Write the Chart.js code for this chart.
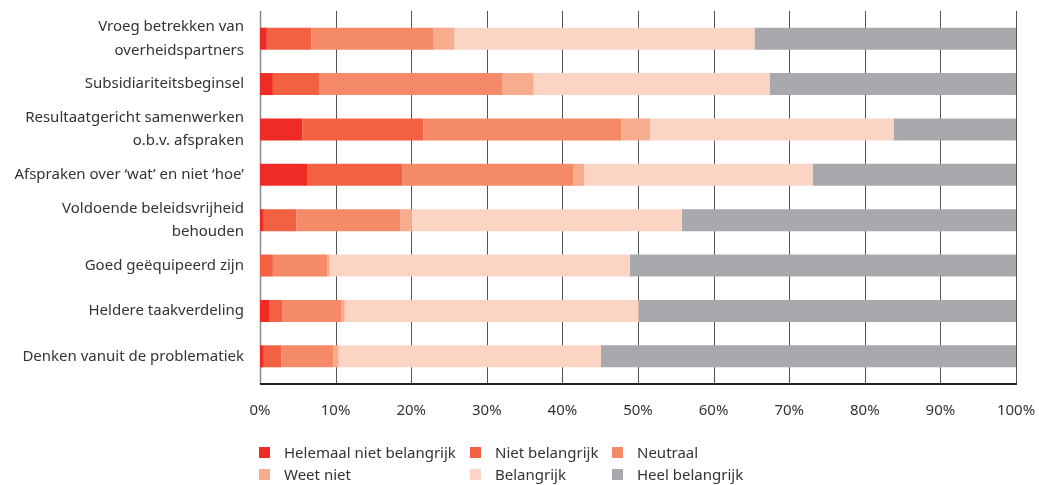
<!DOCTYPE html>
<html lang="nl">
<head>
    <meta charset="UTF-8">
    <title>Belang van samenwerkingsprincipes</title>
    <style>
        html, body {
            margin: 0;
            padding: 0;
            background: #fff;
        }

        #wrap {
            position: relative;
            width: 1039px;
            height: 485px;
        }

        #legend {
            position: absolute;
            left: 259px;
            top: 443px;
            display: grid;
            grid-template-columns: 211px 142px 200px;
            row-gap: 4px;
            font-family: "Noto Sans", sans-serif;
            font-size: 15px;
            color: #333;
        }

        .item {
            display: flex;
            align-items: center;
            height: 18px;
            white-space: nowrap;
        }

        .box {
            width: 11px;
            height: 11px;
            margin-right: 14px;
        }
    </style>
</head>
<body>

<div id="wrap">
    <canvas id="chart" width="1039" height="485"></canvas>
    <div id="legend"></div>
</div>

<script src="https://cdn.jsdelivr.net/npm/chart.js"></script>
<script>
    // categorieën (van boven naar beneden)
    const categories = [
        ['Vroeg betrekken van', 'overheidspartners'],
        'Subsidiariteitsbeginsel',
        ['Resultaatgericht samenwerken', 'o.b.v. afspraken'],
        'Afspraken over \u2018wat\u2019 en niet \u2018hoe\u2019',
        ['Voldoende beleidsvrijheid', 'behouden'],
        'Goed ge\u00EBquipeerd zijn',
        'Heldere taakverdeling',
        'Denken vanuit de problematiek'
    ];

    // waarden in %
    const helemaalNiet = [0.9, 1.7, 5.6, 6.3, 0.5, 0, 1.2, 0.5];
    const nietBelangrijk = [5.9, 6.1, 16.0, 12.5, 4.3, 1.7, 1.8, 2.3];
    const neutraal = [16.1, 24.3, 26.2, 22.6, 13.8, 7.2, 7.8, 6.9];
    const weetNiet = [2.8, 4.1, 3.8, 1.5, 1.5, 0.3, 0.4, 0.7];
    const belangrijk = [39.7, 31.2, 32.2, 30.2, 35.7, 39.7, 38.9, 34.7];
    const heelBelangrijk = [34.6, 32.6, 16.2, 26.9, 44.2, 51.1, 49.9, 54.9];

    const seriesNames = ['Helemaal niet belangrijk', 'Niet belangrijk', 'Neutraal', 'Weet niet', 'Belangrijk', 'Heel belangrijk'];
    const seriesColors = ['#ee2c25', '#f16142', '#f58a69', '#f8ac8e', '#fcd4c4', '#a8a9ad'];
    const seriesValues = [helemaalNiet, nietBelangrijk, neutraal, weetNiet, belangrijk, heelBelangrijk];

    const xTicks = [0, 10, 20, 30, 40, 50, 60, 70, 80, 90, 100];

    const fontFamily = '"Noto Sans", sans-serif';

    // verticale rasterlijnen lopen iets boven en onder het plotgebied door
    const gridPlugin = {
        id: 'gridLines',
        beforeDatasetsDraw(chart) {
            const ctx = chart.ctx;
            const area = chart.chartArea;
            const x = chart.scales.x;
            ctx.save();
            xTicks.forEach(function (t) {
                const px = Math.round(x.getPixelForValue(t)) + 0.5;
                ctx.beginPath();
                ctx.strokeStyle = t === 0 ? '#8a8a8a' : '#555';
                ctx.lineWidth = t === 0 ? 1.5 : 1;
                ctx.moveTo(px, area.top - 5);
                ctx.lineTo(px, area.bottom + 5);
                ctx.stroke();
            });
            // x-as
            ctx.beginPath();
            ctx.strokeStyle = '#222';
            ctx.lineWidth = 2;
            ctx.moveTo(x.getPixelForValue(0), area.bottom + 5);
            ctx.lineTo(x.getPixelForValue(100) + 1, area.bottom + 5);
            ctx.stroke();
            ctx.restore();
        }
    };

    const chart = new Chart(document.getElementById('chart'), {
        type: 'bar',
        data: {
            labels: categories,
            datasets: seriesNames.map(function (name, i) {
                return {
                    label: name,
                    data: seriesValues[i],
                    backgroundColor: seriesColors[i],
                    borderWidth: 0,
                    categoryPercentage: 1,
                    barPercentage: 0.485
                };
            })
        },
        options: {
            indexAxis: 'y',
            responsive: false,
            animation: false,
            layout: {
                padding: { top: 16, right: 23, left: 0, bottom: 0 }
            },
            plugins: {
                legend: { display: false },
                tooltip: { enabled: false }
            },
            scales: {
                x: {
                    stacked: true,
                    min: 0,
                    max: 100,
                    afterBuildTicks(scale) {
                        scale.ticks = xTicks.map(function (v) { return { value: v }; });
                    },
                    afterFit(scale) {
                        scale.height = 106;
                        scale.paddingLeft = 0;
                        scale.paddingRight = 0;
                    },
                    grid: { display: false, drawTicks: false },
                    border: { display: false },
                    ticks: {
                        padding: 23,
                        maxRotation: 0,
                        color: '#333',
                        font: { family: fontFamily, size: 15 },
                        callback: function (v) { return v + '%'; }
                    }
                },
                y: {
                    stacked: true,
                    afterFit(scale) {
                        scale.width = 260;
                        scale.paddingTop = 0;
                        scale.paddingBottom = 0;
                    },
                    grid: { display: false, drawTicks: false },
                    border: { display: false },
                    ticks: {
                        autoSkip: false,
                        padding: 16,
                        color: '#333',
                        font: { family: fontFamily, size: 15, lineHeight: 1.55 }
                    }
                }
            }
        },
        plugins: [gridPlugin]
    });

    // legenda in drie kolommen, opgebouwd uit de datasets van de grafiek
    const legendEl = document.getElementById('legend');
    chart.data.datasets.forEach(function (ds) {
        const item = document.createElement('div');
        item.className = 'item';
        item.innerHTML = '<span class="box" style="background:' + ds.backgroundColor + '"></span>' + ds.label;
        legendEl.appendChild(item);
    });
</script>
</body>
</html>
